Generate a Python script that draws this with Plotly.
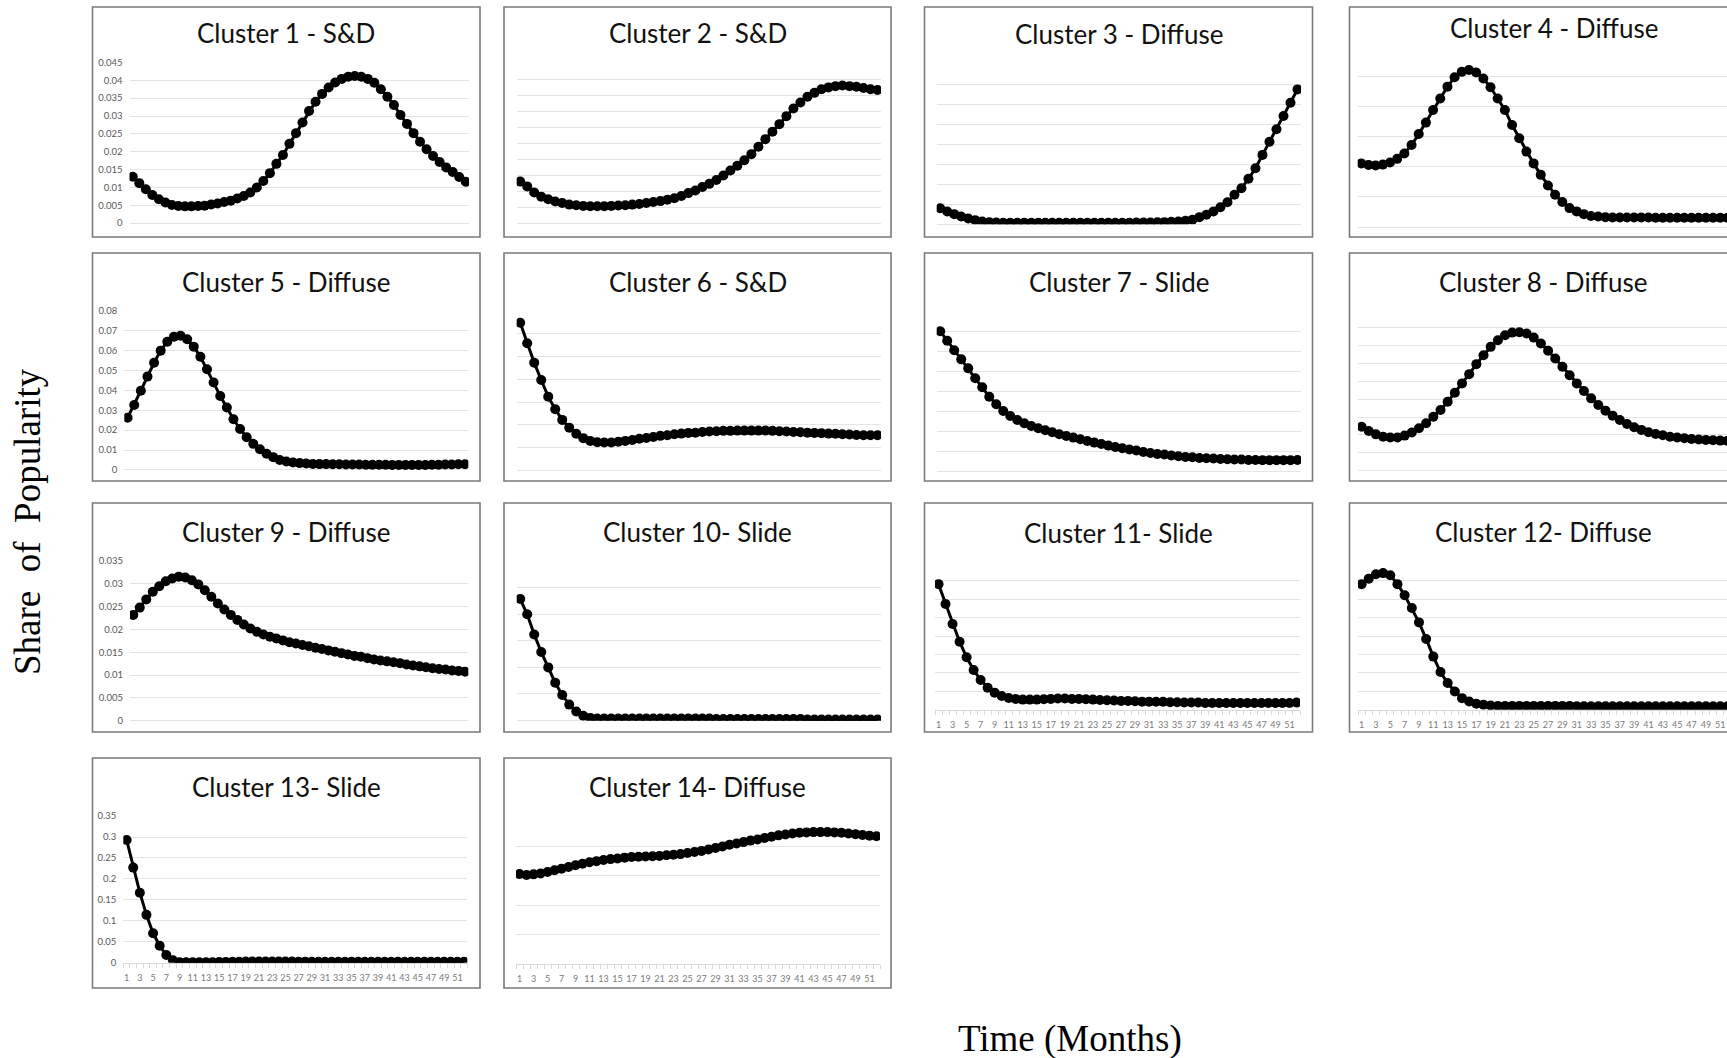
import plotly.graph_objects as go

W, H = 1727, 1058

months = list(range(1, 53))
x_tick_vals = list(range(1, 52, 2))
x_tick_text = [str(v) for v in x_tick_vals]

titles = [
    "Cluster 1 - S&D", "Cluster 2 - S&D", "Cluster 3 - Diffuse", "Cluster 4 - Diffuse",
    "Cluster 5 - Diffuse", "Cluster 6 - S&D", "Cluster 7 - Slide", "Cluster 8 - Diffuse",
    "Cluster 9 - Diffuse", "Cluster 10- Slide", "Cluster 11- Slide", "Cluster 12- Diffuse",
    "Cluster 13- Slide", "Cluster 14- Diffuse",
]

cluster1 = [0.0130, 0.0112, 0.0095, 0.0079, 0.0067, 0.0058, 0.0051, 0.0048, 0.0047, 0.0047,
            0.0048, 0.0049, 0.0052, 0.0055, 0.0059, 0.0063, 0.0069, 0.0076, 0.0086, 0.0100,
            0.0118, 0.0140, 0.0166, 0.0191, 0.0222, 0.0252, 0.0282, 0.0314, 0.0340, 0.0362,
            0.0380, 0.0394, 0.0404, 0.0410, 0.0412, 0.0410, 0.0404, 0.0393, 0.0375, 0.0354,
            0.0331, 0.0303, 0.0278, 0.0252, 0.0228, 0.0207, 0.0188, 0.0171, 0.0156, 0.0143,
            0.0129, 0.0116]
cluster2 = [0.0130, 0.0115, 0.0096, 0.0083, 0.0075, 0.0068, 0.0063, 0.0058, 0.0056, 0.0054,
            0.0053, 0.0053, 0.0053, 0.0054, 0.0055, 0.0056, 0.0058, 0.0060, 0.0063, 0.0066,
            0.0069, 0.0073, 0.0078, 0.0085, 0.0094, 0.0102, 0.0113, 0.0123, 0.0135, 0.0149,
            0.0165, 0.0180, 0.0197, 0.0216, 0.0239, 0.0263, 0.0286, 0.0310, 0.0335, 0.0359,
            0.0378, 0.0396, 0.0408, 0.0419, 0.0425, 0.0429, 0.0431, 0.0429, 0.0427, 0.0423,
            0.0419, 0.0417]
cluster3 = [0.0080, 0.0063, 0.0050, 0.0038, 0.0028, 0.0020, 0.0013, 0.0010, 0.0008, 0.0007,
            0.0007, 0.0007, 0.0007, 0.0007, 0.0007, 0.0007, 0.0007, 0.0007, 0.0007, 0.0007,
            0.0007, 0.0007, 0.0007, 0.0007, 0.0007, 0.0007, 0.0007, 0.0007, 0.0008, 0.0008,
            0.0008, 0.0009, 0.0010, 0.0012, 0.0013, 0.0017, 0.0022, 0.0035, 0.0047, 0.0063,
            0.0085, 0.0110, 0.0147, 0.0180, 0.0227, 0.0280, 0.0347, 0.0413, 0.0475, 0.0542,
            0.0608, 0.0675]
cluster4 = [0.0211, 0.0206, 0.0204, 0.0207, 0.0214, 0.0226, 0.0244, 0.0272, 0.0308, 0.0346,
            0.0388, 0.0426, 0.0465, 0.0496, 0.0514, 0.0520, 0.0512, 0.0492, 0.0463, 0.0426,
            0.0388, 0.0338, 0.0294, 0.0250, 0.0211, 0.0173, 0.0138, 0.0107, 0.0083, 0.0063,
            0.0052, 0.0043, 0.0037, 0.0035, 0.0033, 0.0032, 0.0032, 0.0032, 0.0032, 0.0032,
            0.0032, 0.0031, 0.0031, 0.0031, 0.0031, 0.0031, 0.0031, 0.0031, 0.0031, 0.0031,
            0.0031, 0.0031]
cluster5 = [0.0263, 0.0327, 0.0399, 0.0470, 0.0540, 0.0601, 0.0646, 0.0671, 0.0676, 0.0658,
            0.0621, 0.0570, 0.0507, 0.0440, 0.0372, 0.0314, 0.0255, 0.0206, 0.0164, 0.0131,
            0.0104, 0.0081, 0.0064, 0.0050, 0.0042, 0.0037, 0.0034, 0.0032, 0.0030, 0.0029,
            0.0029, 0.0028, 0.0028, 0.0027, 0.0027, 0.0027, 0.0026, 0.0026, 0.0026, 0.0026,
            0.0025, 0.0025, 0.0025, 0.0025, 0.0025, 0.0025, 0.0026, 0.0026, 0.0027, 0.0027,
            0.0028, 0.0028]
cluster6 = [0.0648, 0.0558, 0.0473, 0.0397, 0.0324, 0.0269, 0.0222, 0.0188, 0.0161, 0.0142,
            0.0130, 0.0124, 0.0123, 0.0123, 0.0126, 0.0130, 0.0134, 0.0139, 0.0143, 0.0147,
            0.0152, 0.0155, 0.0159, 0.0162, 0.0165, 0.0166, 0.0169, 0.0171, 0.0172, 0.0174,
            0.0174, 0.0175, 0.0175, 0.0175, 0.0175, 0.0175, 0.0174, 0.0172, 0.0171, 0.0169,
            0.0168, 0.0166, 0.0165, 0.0164, 0.0162, 0.0161, 0.0159, 0.0158, 0.0156, 0.0155,
            0.0155, 0.0155]
cluster7 = [0.0703, 0.0655, 0.0608, 0.0562, 0.0517, 0.0467, 0.0422, 0.0375, 0.0337, 0.0303,
            0.0278, 0.0258, 0.0242, 0.0228, 0.0217, 0.0207, 0.0197, 0.0187, 0.0178, 0.0170,
            0.0162, 0.0153, 0.0145, 0.0138, 0.0130, 0.0123, 0.0117, 0.0110, 0.0105, 0.0098,
            0.0093, 0.0088, 0.0085, 0.0080, 0.0077, 0.0073, 0.0072, 0.0068, 0.0067, 0.0065,
            0.0063, 0.0062, 0.0060, 0.0060, 0.0058, 0.0058, 0.0057, 0.0057, 0.0057, 0.0057,
            0.0057, 0.0058]
cluster8 = [0.0246, 0.0222, 0.0203, 0.0190, 0.0185, 0.0185, 0.0196, 0.0213, 0.0237, 0.0265,
            0.0302, 0.0340, 0.0386, 0.0437, 0.0489, 0.0541, 0.0597, 0.0647, 0.0694, 0.0731,
            0.0759, 0.0774, 0.0776, 0.0769, 0.0746, 0.0713, 0.0672, 0.0629, 0.0582, 0.0535,
            0.0489, 0.0446, 0.0405, 0.0368, 0.0336, 0.0308, 0.0284, 0.0261, 0.0243, 0.0228,
            0.0215, 0.0205, 0.0198, 0.0190, 0.0185, 0.0181, 0.0177, 0.0174, 0.0172, 0.0170,
            0.0168, 0.0167]
cluster9 = [0.0232, 0.0248, 0.0266, 0.0283, 0.0295, 0.0306, 0.0312, 0.0316, 0.0314, 0.0308,
            0.0299, 0.0286, 0.0272, 0.0257, 0.0244, 0.0232, 0.0221, 0.0211, 0.0202, 0.0195,
            0.0189, 0.0184, 0.0180, 0.0176, 0.0172, 0.0169, 0.0166, 0.0163, 0.0160, 0.0157,
            0.0154, 0.0151, 0.0148, 0.0145, 0.0142, 0.0140, 0.0137, 0.0134, 0.0132, 0.0130,
            0.0128, 0.0126, 0.0123, 0.0121, 0.0119, 0.0117, 0.0115, 0.0113, 0.0112, 0.0110,
            0.0109, 0.0107]
cluster10 = [0.0229, 0.0200, 0.0162, 0.0129, 0.0100, 0.0071, 0.0048, 0.0030, 0.0017, 0.0009,
             0.0005, 0.0004, 0.0004, 0.0004, 0.0004, 0.0004, 0.0004, 0.0004, 0.0004, 0.0004,
             0.0004, 0.0004, 0.0004, 0.0004, 0.0004, 0.0004, 0.0004, 0.0004, 0.0003, 0.0003,
             0.0003, 0.0003, 0.0003, 0.0003, 0.0003, 0.0003, 0.0003, 0.0003, 0.0003, 0.0003,
             0.0003, 0.0002, 0.0002, 0.0002, 0.0002, 0.0002, 0.0002, 0.0002, 0.0002, 0.0002,
             0.0002, 0.0002]
cluster11 = [0.0682, 0.0574, 0.0465, 0.0369, 0.0284, 0.0215, 0.0161, 0.0119, 0.0092, 0.0074,
             0.0063, 0.0058, 0.0054, 0.0054, 0.0054, 0.0056, 0.0058, 0.0060, 0.0060, 0.0058,
             0.0058, 0.0056, 0.0054, 0.0052, 0.0051, 0.0049, 0.0047, 0.0047, 0.0045, 0.0043,
             0.0043, 0.0042, 0.0042, 0.0040, 0.0040, 0.0038, 0.0038, 0.0038, 0.0036, 0.0036,
             0.0036, 0.0036, 0.0036, 0.0036, 0.0036, 0.0036, 0.0036, 0.0036, 0.0036, 0.0036,
             0.0036, 0.0038]
cluster12 = [0.0341, 0.0356, 0.0368, 0.0371, 0.0365, 0.0341, 0.0311, 0.0276, 0.0237, 0.0192,
             0.0144, 0.0102, 0.0072, 0.0049, 0.0031, 0.0022, 0.0016, 0.0013, 0.0011, 0.0010,
             0.0010, 0.0010, 0.0010, 0.0010, 0.0010, 0.0010, 0.0010, 0.0010, 0.0010, 0.0010,
             0.0009, 0.0009, 0.0009, 0.0009, 0.0009, 0.0009, 0.0009, 0.0009, 0.0009, 0.0009,
             0.0009, 0.0009, 0.0009, 0.0009, 0.0009, 0.0009, 0.0009, 0.0009, 0.0009, 0.0009,
             0.0009, 0.0009]
cluster13 = [0.293, 0.227, 0.167, 0.114, 0.070, 0.040, 0.018, 0.0056, 0.0010, 0.0008,
             0.0006, 0.0006, 0.0008, 0.0010, 0.0013, 0.0016, 0.0019, 0.0021, 0.0023, 0.0024,
             0.0024, 0.0024, 0.0024, 0.0024, 0.0023, 0.0023, 0.0022, 0.0022, 0.0021, 0.0021,
             0.0021, 0.0020, 0.0020, 0.0020, 0.0020, 0.0020, 0.0019, 0.0019, 0.0019, 0.0019,
             0.0019, 0.0019, 0.0019, 0.0018, 0.0018, 0.0018, 0.0018, 0.0018, 0.0018, 0.0018,
             0.0018, 0.0018]
cluster14 = [0.0306, 0.0303, 0.0305, 0.0308, 0.0313, 0.0319, 0.0324, 0.0330, 0.0336, 0.0341,
             0.0346, 0.0350, 0.0354, 0.0357, 0.0359, 0.0362, 0.0364, 0.0365, 0.0366, 0.0367,
             0.0368, 0.0370, 0.0372, 0.0374, 0.0378, 0.0381, 0.0385, 0.0390, 0.0395, 0.0400,
             0.0406, 0.0410, 0.0415, 0.0420, 0.0424, 0.0429, 0.0433, 0.0438, 0.0441, 0.0444,
             0.0447, 0.0448, 0.0449, 0.0449, 0.0449, 0.0448, 0.0447, 0.0444, 0.0442, 0.0439,
             0.0437, 0.0435]

series = [cluster1, cluster2, cluster3, cluster4, cluster5, cluster6, cluster7,
          cluster8, cluster9, cluster10, cluster11, cluster12, cluster13, cluster14]

# value-axis scales (top, grid step) and tick labels for the labelled axes
y_tops = [0.045, 0.05, 0.08, 0.06, 0.08, 0.07, 0.08, 0.09, 0.035, 0.03, 0.08, 0.04, 0.35, 0.05]
y_steps = [0.005, 0.005, 0.01, 0.01, 0.01, 0.01, 0.01, 0.01, 0.005, 0.005, 0.01, 0.005, 0.05, 0.01]
y_labels_c1 = ["0", "0.005", "0.01", "0.015", "0.02", "0.025", "0.03", "0.035", "0.04", "0.045"]
y_labels_c5 = ["0", "0.01", "0.02", "0.03", "0.04", "0.05", "0.06", "0.07", "0.08"]
y_labels_c9 = ["0", "0.005", "0.01", "0.015", "0.02", "0.025", "0.03", "0.035"]
y_labels_c13 = ["0", "0.05", "0.1", "0.15", "0.2", "0.25", "0.3", "0.35"]
y_label_map = {0: y_labels_c1, 4: y_labels_c5, 8: y_labels_c9, 12: y_labels_c13}
x_label_panels = {10, 11, 12, 13}

# ---------------- layout geometry (pixels) ----------------
box_cols = [(92.5, 480), (504, 891), (924.5, 1312.5), (1349.5, 1740)]
box_rows = [(7, 237), (253, 481), (503, 732), (758, 988)]
title_y = [[33, 33, 34, 28], [282, 282, 282, 282], [532, 532, 533, 532], [787, 787]]
title_x_col4 = [1554, 1543, 1543]
# plot areas: (x0, x1, ytop, ybottom)
plots = [
    (129.5, 469, 62.3, 223.3), (516.7, 881, 63.3, 223.3), (936.7, 1301, 64.3, 224.3), (1357.7, 1731, 45.7, 227.3),
    (124.3, 468.3, 311, 470), (516.7, 881, 310.7, 470.7), (936.7, 1301, 311.7, 471.7), (1358, 1731, 310, 470.7),
    (130, 468.3, 561, 720.7), (516.7, 881, 561, 720.7), (935, 1300, 562.3, 709.7), (1358, 1731, 562.3, 709.7),
    (123.3, 467.3, 816, 962.7), (516, 880, 817, 964),
]

GRID = "#e4e4e4"
fig = go.Figure()
layout_axes = {}
shapes = []
annotations = []

for k in range(14):
    r, c = divmod(k, 4)
    ax = "" if k == 0 else str(k + 1)
    xa, ya = "x" + ax, "y" + ax
    px0, px1, pyt, pyb = plots[k]
    xr = [0.5, 52.5]
    if px1 > W:
        xr = [0.5, 0.5 + 52 * (W - px0) / (px1 - px0)]
        px1 = W
    top = y_tops[k]
    eps = top * 0.001
    fig.add_trace(go.Scatter(
        x=months, y=series[k], xaxis=xa, yaxis=ya, mode="lines+markers",
        line=dict(color="black", width=3), marker=dict(color="black", size=10),
        showlegend=False, hoverinfo="x+y"))
    nsteps = int(round(top / y_steps[k]))
    tv = [i * y_steps[k] for i in range(nsteps + 1)]
    yaxis = dict(
        domain=[1 - pyb / H, 1 - pyt / H], anchor=xa, range=[-eps, top + eps],
        tickmode="array", tickvals=tv, showgrid=True, gridcolor=GRID, gridwidth=1,
        zeroline=True, zerolinecolor=GRID, zerolinewidth=1, showline=False, ticks="",
        fixedrange=True, automargin=False,
    )
    if k in y_label_map:
        yaxis.update(ticktext=y_label_map[k], showticklabels=True,
                     tickfont=dict(family="Lato", size=9.5, color="#595959"), ticklabelstandoff=6)
    else:
        yaxis.update(showticklabels=False)
    xaxis = dict(
        domain=[px0 / W, px1 / W], anchor=ya, range=xr, showgrid=False, zeroline=False,
        fixedrange=True, automargin=False,
    )
    if k in x_label_panels:
        xaxis.update(tickmode="array", tickvals=x_tick_vals, ticktext=x_tick_text, ticks="",
                     tickangle=0, showticklabels=True,
                     tickfont=dict(family="Lato", size=9, color="#7a7a7a"),
                     showline=True, linecolor="#d9d9d9", linewidth=1, ticklabelstandoff=6,
                     minor=dict(tickmode="linear", tick0=0.5, dtick=1, ticks="outside",
                                ticklen=4, tickcolor="#d9d9d9", tickwidth=1))
    else:
        xaxis.update(showticklabels=False, ticks="")
    layout_axes["xaxis" + ax] = xaxis
    layout_axes["yaxis" + ax] = yaxis

    bx0, bx1 = box_cols[c]
    by0, by1 = box_rows[r]
    line = dict(color="#7a7a7a", width=1.6)
    if bx1 <= W:
        shapes.append(dict(type="rect", xref="paper", yref="paper", x0=bx0 / W, x1=bx1 / W,
                           y0=1 - by1 / H, y1=1 - by0 / H, line=line, layer="above"))
        cx = (bx0 + bx1) / 2
    else:
        pts = [(W + 5, by0), (bx0, by0), (bx0, by1), (W + 5, by1)]
        p = "M " + " L ".join("%f,%f" % (x / W, 1 - y / H) for x, y in pts)
        shapes.append(dict(type="path", xref="paper", yref="paper", path=p, line=line, layer="above"))
        cx = title_x_col4[r]
    annotations.append(dict(text=titles[k], xref="paper", yref="paper", x=cx / W,
                            y=1 - title_y[r][c] / H, xanchor="center", yanchor="middle",
                            showarrow=False, font=dict(family="Lato", size=26, color="#111111")))

nb = "\u00a0"
annotations.append(dict(text="Share" + nb * 2 + "of" + nb * 2 + "Popularity", xref="paper", yref="paper",
                        x=27.5 / W, y=1 - 521.5 / H, textangle=-90, showarrow=False,
                        xanchor="center", yanchor="middle",
                        font=dict(family="Liberation Serif", size=37, color="black")))
annotations.append(dict(text="Time (Months)", xref="paper", yref="paper",
                        x=1069.5 / W, y=1 - 1038.6 / H, showarrow=False,
                        xanchor="center", yanchor="middle",
                        font=dict(family="Liberation Serif", size=37, color="black")))

fig.update_layout(
    width=W, height=H, margin=dict(l=0, r=0, t=0, b=0, autoexpand=False),
    paper_bgcolor="white", plot_bgcolor="white", showlegend=False,
    shapes=shapes, annotations=annotations, **layout_axes,
)
fig.write_html("out.html")
